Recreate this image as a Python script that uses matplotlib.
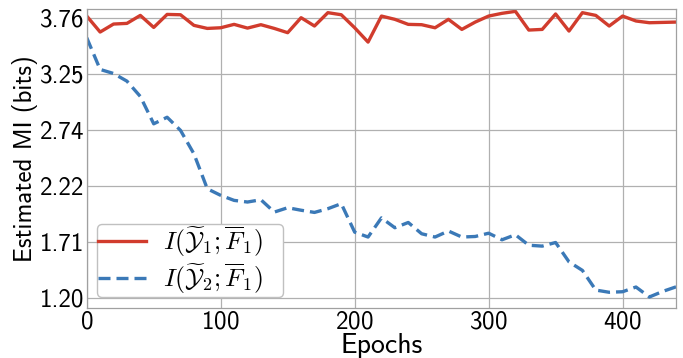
import numpy as np
import matplotlib.pyplot as plt

plt.rcParams['font.family'] = 'cmss10'
plt.rcParams['mathtext.fontset'] = 'cm'
plt.rcParams['axes.formatter.use_mathtext'] = True

# Epochs sampled every 10
epochs = np.arange(0, 450, 10)
# I(Y1; F1) - red solid
mi_y1 = [3.775, 3.629, 3.702, 3.708, 3.781, 3.671, 3.790, 3.787, 3.690, 3.662,
         3.668, 3.699, 3.665, 3.696, 3.662, 3.623, 3.760, 3.684, 3.806, 3.787,
         3.668, 3.537, 3.775, 3.745, 3.699, 3.696, 3.668, 3.745, 3.653, 3.720,
         3.775, 3.800, 3.818, 3.647, 3.653, 3.794, 3.638, 3.806, 3.781, 3.684,
         3.775, 3.730, 3.714, 3.717, 3.720]
# I(Y2; F1) - blue dashed
mi_y2 = [3.577, 3.287, 3.250, 3.180, 3.040, 2.790, 2.850, 2.730, 2.516, 2.196,
         2.136, 2.090, 2.075, 2.096, 1.983, 2.023, 2.000, 1.980, 2.014, 2.060,
         1.800, 1.755, 1.930, 1.840, 1.888, 1.785, 1.755, 1.810, 1.755, 1.760,
         1.790, 1.730, 1.776, 1.680, 1.672, 1.705, 1.528, 1.450, 1.270, 1.250,
         1.255, 1.298, 1.207, 1.258, 1.300]
yticks = [1.20, 1.712, 2.224, 2.736, 3.248, 3.76]

fig = plt.figure(figsize=(6.83, 3.58), dpi=100)
ax = fig.add_axes([0.127, 0.1405, 0.863, 0.8345])

ax.plot(epochs, mi_y1, color='#d13c2d', lw=2.4,
        label=r'$I(\widetilde{\mathcal{Y}}_1;\overline{F}_1)$' + '   ')
ax.plot(epochs, mi_y2, color='#3b79b7', lw=2.4, ls='--', dashes=(3.6, 1.8),
        label=r'$I(\widetilde{\mathcal{Y}}_2;\overline{F}_1)$' + '   ')

ax.set_xlim(0, 440)
ax.set_ylim(1.109, 3.84)
ax.set_xticks([0, 100, 200, 300, 400])
ax.set_yticks(yticks)
ax.set_yticklabels(['%.2f' % v for v in yticks])
ax.tick_params(length=0, labelsize=18, pad=2)
ax.grid(True, color='#b0b0b0', lw=0.9)
for s in ax.spines.values():
    s.set_color('#a0a0a0')
    s.set_linewidth(0.9)

ax.set_xlabel('Epochs', fontsize=20, labelpad=0)
ax.set_ylabel('Estimated MI (bits)', fontsize=18, labelpad=1)
ax.legend(loc='lower left', fontsize=18.5, handlelength=1.85, handletextpad=0.65,
          labelspacing=0.1, borderpad=0.05, borderaxespad=0.4,
          framealpha=1, edgecolor='#c0c0c0')

fig.savefig('out.png', dpi=100)
